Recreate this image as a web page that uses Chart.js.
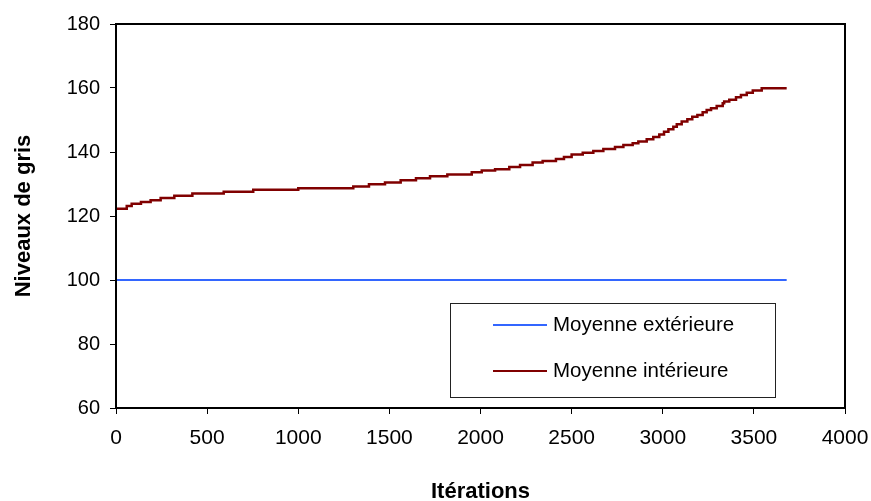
<!DOCTYPE html>
<html>
<head>
<meta charset="utf-8">
<script src="https://cdn.jsdelivr.net/npm/chart.js@4.4.0/dist/chart.umd.min.js"></script>
<style>
html,body{margin:0;padding:0;background:#fff;}
</style>
</head>
<body>
<canvas id="chart" width="871" height="501"></canvas>
<script>
// ================= DATA =================
const xTicks = [0, 500, 1000, 1500, 2000, 2500, 3000, 3500, 4000];
const yTicks = [60, 80, 100, 120, 140, 160, 180];

// moyenne extérieure (constante)
const extIters  = [0, 3680];
const extValues = [100, 100];

// moyenne intérieure (escalier) : itération où le niveau change, nouveau niveau
const intIters = [0, 59, 86, 137, 190, 245, 320, 419, 591, 753, 1000, 1302, 1388, 1476, 1562,
  1646, 1723, 1818, 1952, 2007, 2080, 2158, 2217, 2286, 2341, 2414, 2458, 2500, 2561, 2619,
  2674, 2738, 2784, 2835, 2866, 2912, 2948, 2981, 3007, 3031, 3058, 3077, 3104, 3135, 3162,
  3190, 3219, 3241, 3265, 3296, 3329, 3337, 3365, 3402, 3429, 3461, 3494, 3543, 3680];
const intValues = [122.3, 123.1, 123.8, 124.4, 124.9, 125.6, 126.3, 127.0, 127.6, 128.2, 128.7,
  129.2, 129.9, 130.5, 131.2, 131.8, 132.4, 133.0, 133.7, 134.2, 134.6, 135.3, 135.9, 136.7,
  137.2, 137.8, 138.4, 139.2, 139.8, 140.3, 140.9, 141.6, 142.2, 142.7, 143.3, 144.0, 144.7,
  145.5, 146.3, 147.1, 147.9, 148.7, 149.5, 150.2, 151.0, 151.6, 152.4, 153.1, 153.7, 154.4,
  155.2, 155.8, 156.3, 157.1, 157.8, 158.5, 159.2, 159.9, 159.9];

const seriesNames = ["Moyenne extérieure", "Moyenne intérieure"];
const seriesColors = ["#3366ff", "#800000"];

const FONT = "'Liberation Sans', Arial, sans-serif";

// ================= PLUGIN : cadre + légende =================
const framePlugin = {
  id: "frame",
  afterDraw(chart){
    const {ctx, chartArea:a} = chart;
    ctx.save();
    ctx.strokeStyle = "#000";
    ctx.lineWidth = 2;
    ctx.strokeRect(a.left, a.top, a.right - a.left, a.bottom - a.top);

    // légende
    ctx.fillStyle = "#fff";
    ctx.fillRect(450, 303, 325, 94);
    ctx.strokeStyle = "#222";
    ctx.lineWidth = 1;
    ctx.strokeRect(450.5, 303.5, 325, 94);
    ctx.font = "20.5px " + FONT;
    ctx.textBaseline = "middle";
    const rows = [325, 371];
    chart.data.datasets.forEach((ds, i) => {
      ctx.strokeStyle = ds.borderColor;
      ctx.lineWidth = 2;
      ctx.beginPath();
      ctx.moveTo(493, rows[i]);
      ctx.lineTo(547, rows[i]);
      ctx.stroke();
      ctx.fillStyle = "#000";
      ctx.fillText(ds.label, 553, rows[i]);
    });
    ctx.restore();
  }
};

// ================= CHART =================
new Chart(document.getElementById("chart"), {
  type: "scatter",
  data: {
    datasets: [
      {
        label: seriesNames[0],
        data: extIters.map((x, i) => ({x, y: extValues[i]})),
        showLine: true,
        borderColor: seriesColors[0],
        borderWidth: 2,
        pointRadius: 0
      },
      {
        label: seriesNames[1],
        data: intIters.map((x, i) => ({x, y: intValues[i]})),
        showLine: true,
        stepped: true,
        borderColor: seriesColors[1],
        borderWidth: 2.5,
        pointRadius: 0
      }
    ]
  },
  options: {
    responsive: false,
    animation: false,
    layout: {padding: {top: 24, right: 26, left: 0, bottom: 0}},
    plugins: {legend: {display: false}, tooltip: {enabled: false}},
    scales: {
      x: {
        type: "linear",
        min: xTicks[0], max: xTicks[xTicks.length - 1],
        afterBuildTicks: s => { s.ticks = xTicks.map(v => ({value: v})); },
        afterFit: s => { s.height = 93; s.paddingLeft = 0; s.paddingRight = 0; },
        border: {display: false},
        grid: {drawOnChartArea: false, drawTicks: true, tickLength: 6, color: "#000"},
        ticks: {color: "#000", font: {family: FONT, size: 21}, padding: 12, maxRotation: 0,
          callback: v => String(v)},
        title: {display: true, text: "Itérations", color: "#000",
          font: {family: FONT, size: 22, weight: "bold", lineHeight: 0.8}, padding: {top: 0, bottom: 0}}
      },
      y: {
        min: yTicks[0], max: yTicks[yTicks.length - 1],
        afterBuildTicks: s => { s.ticks = yTicks.map(v => ({value: v})); },
        afterFit: s => { s.width = 116; s.paddingTop = 0; s.paddingBottom = 0; },
        border: {display: false},
        grid: {drawOnChartArea: false, drawTicks: true, tickLength: 6, color: "#000"},
        ticks: {color: "#000", font: {family: FONT, size: 20}, padding: 10,
          callback: v => String(v)},
        title: {display: true, text: "Niveaux de gris", color: "#000",
          font: {family: FONT, size: 22, weight: "bold"}, padding: {top: 11, bottom: 0}}
      }
    }
  },
  plugins: [framePlugin]
});
</script>
</body>
</html>
